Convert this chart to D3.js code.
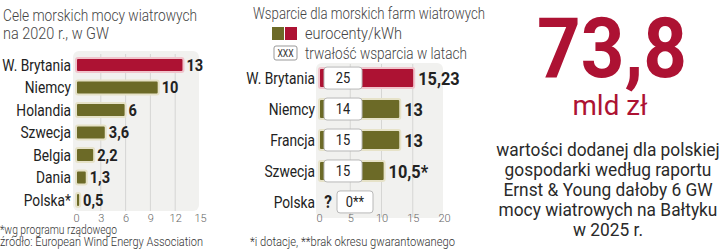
<!DOCTYPE html>
<html>
<head>
<meta charset="utf-8">
<script src="https://cdn.jsdelivr.net/npm/d3@7"></script>
<style>
  body { margin: 0; background: #fff; }
  text { font-family: Roboto, "Liberation Sans", sans-serif; }
</style>
</head>
<body>
<script>
// left chart: goals 2020
var goalCountries = ["W. Brytania", "Niemcy", "Holandia", "Szwecja", "Belgia", "Dania", "Polska*"];
var goalValues = [13, 10, 6, 3.6, 2.2, 1.3, 0.5];
var goalLabels = ["13", "10", "6", "3,6", "2,2", "1,3", "0,5"];
var goalTicks = [0, 3, 6, 9, 12, 15];

// middle chart: support
var supportCountries = ["W. Brytania", "Niemcy", "Francja", "Szwecja", "Polska"];
var supportValues = [15.23, 13, 13, 10.5, 0];
var supportLabels = ["15,23", "13", "13", "10,5*", ""];
var supportYears = ["25", "14", "15", "15", "0**"];
var supportTicks = [0, 5, 10, 15, 20];

var paragraph = [
  "wartości dodanej dla polskiej",
  "gospodarki według raportu",
  "Ernst & Young dałoby 6 GW",
  "mocy wiatrowych na Bałtyku",
  "w 2025 r."
];

var w = 720, h = 249;
var red = "#ad1233", olive = "#6c6a27";
var redEdge = "#f0c4cc", oliveEdge = "#e6e2c8";
var sx = 0.86; // squeeze for condensed look

var svg = d3.select("body").append("svg")
    .attr("width", w)
    .attr("height", h);

// text squeezed horizontally, x given in page pixels
function label(x, y, s, size, opts) {
  opts = opts || {};
  var k = opts.k || sx;
  var t = svg.append("text")
      .attr("x", x / k).attr("y", y)
      .attr("transform", "scale(" + k + ",1)")
      .attr("font-size", size)
      .attr("fill", opts.fill || "#333")
      .attr("font-weight", opts.weight || 400)
      .attr("text-anchor", opts.anchor || "start")
      .text(s);
  if (opts.len) t.attr("textLength", opts.len / k).attr("lengthAdjust", "spacingAndGlyphs");
  return t;
}

// ---------- left chart ----------
var x1 = d3.scaleLinear().domain([0, 15]).range([76, 200]);
var y1 = d3.scaleBand().domain(goalCountries).range([53.75, 211.25]).paddingInner(0.38).paddingOuter(0.19);

label(3, 21, "Cele morskich mocy wiatrowych", 17, {fill: "#444", weight: 300, len: 194});
label(3, 39, "na 2020 r., w GW", 17, {fill: "#444", weight: 300, len: 106});

svg.append("rect")
    .attr("x", 73).attr("y", 51).attr("width", 126).attr("height", 160)
    .attr("rx", 6).attr("fill", "#f1f1ef");

svg.selectAll(".grid1")
    .data(goalTicks.slice(1, -1))
    .enter().append("line")
    .attr("x1", d => x1(d)).attr("x2", d => x1(d))
    .attr("y1", 54).attr("y2", 211)
    .attr("stroke", "#d6d6d4").attr("stroke-width", 1);

svg.selectAll(".bar1")
    .data(goalValues)
    .enter().append("rect")
    .attr("x", x1(0))
    .attr("y", (d, i) => y1(goalCountries[i]))
    .attr("width", d => x1(d) - x1(0))
    .attr("height", y1.bandwidth())
    .attr("rx", 2)
    .attr("fill", (d, i) => i == 0 ? red : olive)
    .attr("stroke", (d, i) => i == 0 ? redEdge : oliveEdge)
    .attr("stroke-width", 2);

svg.selectAll(".name1")
    .data(goalCountries)
    .enter().append("text")
    .attr("x", 71 / sx)
    .attr("y", d => y1(d) + y1.bandwidth() / 2 + 6)
    .attr("transform", "scale(" + sx + ",1)")
    .attr("text-anchor", "end")
    .attr("font-size", 16).attr("fill", "#222")
    .text(d => d);

svg.selectAll(".val1")
    .data(goalValues)
    .enter().append("text")
    .attr("x", d => (x1(d) + 3) / sx)
    .attr("y", (d, i) => y1(goalCountries[i]) + y1.bandwidth() / 2 + 6)
    .attr("transform", "scale(" + sx + ",1)")
    .attr("font-size", 17).attr("font-weight", "bold").attr("fill", "#222")
    .text((d, i) => goalLabels[i]);

var ax1 = svg.append("g")
    .attr("transform", "translate(0,214)")
    .call(d3.axisBottom(x1).tickValues(goalTicks).tickSize(0).tickPadding(0));
ax1.select(".domain").remove();
ax1.selectAll("text").attr("font-size", 11).attr("fill", "#666").attr("font-weight", 300)
    .attr("dy", "0.71em").style("font-family", "Roboto, sans-serif");

label(0, 234, "*wg programu rządowego", 12, {fill: "#333", weight: 300, len: 117});
label(0, 246, "źródło: European Wind Energy Association", 12.5, {fill: "#333", weight: 300, len: 203});

// ---------- middle chart ----------
var x2 = d3.scaleLinear().domain([0, 20]).range([319, 444]);
var y2 = d3.scaleBand().domain(supportCountries).range([62.5, 217.5]).paddingInner(0.355).paddingOuter(0.18);

label(369, 19, "Wsparcie dla morskich farm wiatrowych", 17, {fill: "#444", weight: 300, anchor: "middle", len: 232});

// legend
svg.append("rect").attr("x", 272).attr("y", 27).attr("width", 12).attr("height", 13).attr("fill", olive);
svg.append("rect").attr("x", 285).attr("y", 27).attr("width", 12).attr("height", 13).attr("fill", red);
label(305, 39, "eurocenty/kWh", 17, {fill: "#444", weight: 300, len: 97});
svg.append("rect").attr("x", 274).attr("y", 46).attr("width", 23).attr("height", 14)
    .attr("rx", 2).attr("fill", "#fff").attr("stroke", "#999");
label(285.5, 57, "XXX", 10, {fill: "#333", anchor: "middle"});
label(305, 59, "trwałość wsparcia w latach", 17, {fill: "#444", weight: 300, len: 162});

svg.append("rect")
    .attr("x", 316).attr("y", 63).attr("width", 127).attr("height", 155)
    .attr("rx", 6).attr("fill", "#f1f1ef");

svg.selectAll(".grid2")
    .data(supportTicks.slice(1, -1))
    .enter().append("line")
    .attr("x1", d => x2(d)).attr("x2", d => x2(d))
    .attr("y1", 64).attr("y2", 217)
    .attr("stroke", "#d6d6d4").attr("stroke-width", 1);

var rows = svg.selectAll(".row2")
    .data(supportValues)
    .enter().append("g")
    .attr("transform", (d, i) => "translate(0," + y2(supportCountries[i]) + ")");

rows.filter(d => d > 0).append("rect")
    .attr("x", x2(0))
    .attr("width", d => x2(d) - x2(0))
    .attr("height", y2.bandwidth())
    .attr("rx", 2)
    .attr("fill", (d, i) => i == 0 ? red : olive)
    .attr("stroke", (d, i) => i == 0 ? redEdge : oliveEdge)
    .attr("stroke-width", 2);

rows.append("rect")
    .attr("x", d => d > 0 ? x2(0) + 5 : x2(0) + 18)
    .attr("y", -1)
    .attr("width", d => d > 0 ? 38 : 36)
    .attr("height", y2.bandwidth() + 2)
    .attr("rx", 3)
    .attr("fill", "#fff").attr("stroke", "#b8b8b8");

rows.append("text")
    .attr("x", d => (d > 0 ? x2(0) + 24 : x2(0) + 36) / sx)
    .attr("y", y2.bandwidth() / 2 + 5)
    .attr("transform", "scale(" + sx + ",1)")
    .attr("text-anchor", "middle")
    .attr("font-size", 15).attr("fill", "#222")
    .text((d, i) => supportYears[i]);

rows.filter(d => d == 0).append("text")
    .attr("x", (x2(0) + 9) / sx)
    .attr("y", y2.bandwidth() / 2 + 6)
    .attr("transform", "scale(" + sx + ",1)")
    .attr("text-anchor", "middle")
    .attr("font-size", 18).attr("font-weight", "bold").attr("fill", "#222")
    .text("?");

rows.append("text")
    .attr("x", d => (x2(d) + 4) / sx)
    .attr("y", y2.bandwidth() / 2 + 7)
    .attr("transform", "scale(" + sx + ",1)")
    .attr("font-size", 19).attr("font-weight", "bold").attr("fill", "#222")
    .text((d, i) => supportLabels[i]);

svg.selectAll(".name2")
    .data(supportCountries)
    .enter().append("text")
    .attr("x", 315 / sx)
    .attr("y", d => y2(d) + y2.bandwidth() / 2 + 6)
    .attr("transform", "scale(" + sx + ",1)")
    .attr("text-anchor", "end")
    .attr("font-size", 16).attr("fill", "#222")
    .text(d => d);

var ax2 = svg.append("g")
    .attr("transform", "translate(0,214)")
    .call(d3.axisBottom(x2).tickValues(supportTicks).tickSize(0).tickPadding(0));
ax2.select(".domain").remove();
ax2.selectAll("text").attr("font-size", 11).attr("fill", "#666").attr("font-weight", 300)
    .attr("dy", "0.71em").style("font-family", "Roboto, sans-serif");

label(250, 246, "*i dotacje, **brak okresu gwarantowanego", 12.5, {fill: "#333", weight: 300, len: 205});

// ---------- right block ----------
label(612, 77, "73,8", 84, {fill: red, weight: 700, anchor: "middle", k: 1, len: 150});
label(610, 115, "mld zł", 27, {fill: red, weight: 400, anchor: "middle", k: 1, len: 75});

paragraph.forEach(function(s, i) {
  label(608, 156 + i * 20, s, 17.5, {fill: "#2a2a2a", weight: 400, anchor: "middle", k: 0.99});
});
</script>
</body>
</html>
